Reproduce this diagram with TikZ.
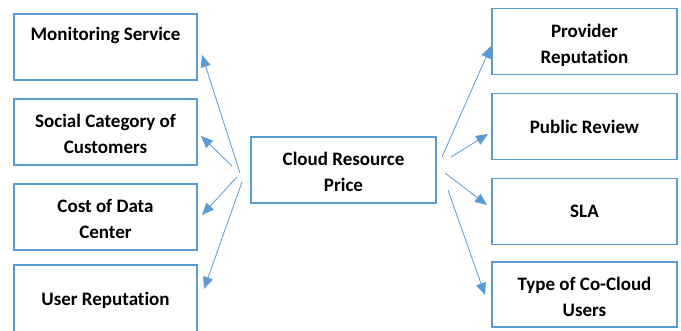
\documentclass[tikz,border=0pt]{standalone}
\usepackage{fontspec}
\setsansfont[Ligatures=NoCommon]{Carlito}
\usetikzlibrary{arrows.meta}
\definecolor{boxblue}{HTML}{5B9BD5}
\begin{document}
\begin{tikzpicture}[x=1pt,y=-1pt,
		factor/.style={draw=boxblue,line width=1.5pt,minimum width=183pt,minimum height=66pt,
			align=center,inner sep=0pt,font=\sffamily\bfseries\fontsize{19}{26}\selectfont},
		twoline/.style={text height=44pt,text depth=0pt},
		link/.style={draw=boxblue,line width=0.8pt,-{Triangle[length=12pt,width=10pt]}}]
		\useasboundingbox (0,0) rectangle (681,331);
		% left column
		\node[factor,twoline,text height=39pt] (mon) at (105.5,47) {Monitoring Service\\~};
		\node[factor,twoline] (soc) at (105.5,132) {Social Category of\\Customers};
		\node[factor,twoline] (cost) at (105.5,217) {Cost of Data\\Center};
		\node[factor,minimum height=70pt] (user) at (105.5,300) {User Reputation};
		% centre
		\node[factor,twoline,minimum width=185pt] (price) at (343.5,170) {Cloud Resource\\Price};
		% right column
		\node[factor,twoline,minimum width=185pt] (prov) at (584.5,41.5) {Provider\\Reputation};
		\node[factor,minimum width=185pt] (pub) at (584.5,126.5) {Public Review};
		\node[factor,minimum width=185pt] (sla) at (584.5,211.5) {SLA};
		\node[factor,twoline,minimum width=185pt,minimum height=65pt] (type) at (584.5,294.5) {Type of Co-Cloud\\Users};
		% arrow ends
		\coordinate (l1) at (240,173); \coordinate (t1) at (202,55);
		\coordinate (l2) at (232,166); \coordinate (t2) at (201,136);
		\coordinate (l3) at (237,177); \coordinate (t3) at (202,215);
		\coordinate (l4) at (242,182); \coordinate (t4) at (204,289);
		\coordinate (r1) at (442,157); \coordinate (u1) at (491,46);
		\coordinate (r2) at (451,157); \coordinate (u2) at (488,134);
		\coordinate (r3) at (445,173); \coordinate (u3) at (487,205);
		\coordinate (r4) at (448,190); \coordinate (u4) at (485,295);
		\draw[link] (l1) -- (t1);
		\draw[link] (l2) -- (t2);
		\draw[link] (l3) -- (t3);
		\draw[link] (l4) -- (t4);
		\draw[link] (r1) -- (u1);
		\draw[link] (r2) -- (u2);
		\draw[link] (r3) -- (u3);
		\draw[link] (r4) -- (u4);
	\end{tikzpicture}
\end{document}
